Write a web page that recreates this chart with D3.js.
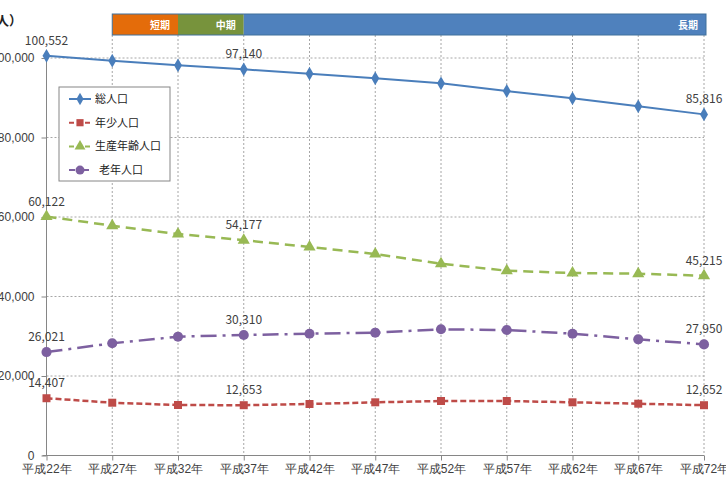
<!DOCTYPE html>
<html>
<head>
<meta charset="utf-8">
<script src="https://cdn.jsdelivr.net/npm/d3@7"></script>
<style>
  body { margin: 0; background: #fff; }
  svg { display: block; font-family: "Noto Sans CJK JP", "Noto Sans", sans-serif; }
</style>
</head>
<body>
<div class="chart"></div>
<script>
// data
var years = ["平成22年", "平成27年", "平成32年", "平成37年", "平成42年", "平成47年",
             "平成52年", "平成57年", "平成62年", "平成67年", "平成72年"];
var total = [100552, 99320, 98160, 97140, 96050, 94890, 93640, 91700, 89860, 87850, 85816];
var young = [14407, 13280, 12700, 12653, 12960, 13380, 13710, 13710, 13380, 13030, 12652];
var working = [60122, 57810, 55720, 54177, 52450, 50690, 48250, 46490, 45910, 45740, 45215];
var elderly = [26021, 28230, 29890, 30310, 30640, 30900, 31750, 31570, 30640, 29230, 27950];
var seriesNames = ["総人口", "年少人口", "生産年齢人口", "老年人口"];
var labeledIdx = [0, 3, 10];
var yTicks = [0, 20000, 40000, 60000, 80000, 100000];
// planning periods, as index ranges into years
var periodNames = ["短期", "中期", "長期"];
var periodStart = [1, 2, 3];
var periodEnd = [2, 3, 10];

var svgWidth = 726, svgHeight = 487;

var svg = d3.select(".chart").append("svg")
    .attr("width", svgWidth)
    .attr("height", svgHeight);

var x = d3.scalePoint().domain(years).range([46.5, 704]);
var y = d3.scaleLinear().domain([0, 110000]).range([455.5, 18.25]);

var barTop = 14, barBottom = 35;
var textColor = "#404040";

// grid
var grid = svg.append("g");
grid.selectAll(".hgrid")
    .data(yTicks.filter(d => d > 0))
    .enter().append("line")
    .attr("x1", x(years[0])).attr("x2", x(years[years.length - 1]))
    .attr("y1", d => y(d)).attr("y2", d => y(d))
    .attr("stroke", "#a6a6a6").attr("stroke-width", 1)
    .attr("stroke-dasharray", "2,2");
grid.selectAll(".vgrid")
    .data(years.slice(1))
    .enter().append("line")
    .attr("x1", d => x(d)).attr("x2", d => x(d))
    .attr("y1", barBottom).attr("y2", y(0))
    .attr("stroke", "#a6a6a6").attr("stroke-width", 1)
    .attr("stroke-dasharray", "2,2");

// axes
var xAxis = svg.append("g")
    .attr("transform", `translate(0,${y(0)})`)
    .call(d3.axisBottom(x).tickSize(5).tickPadding(4));
xAxis.select(".domain").attr("stroke", "#868686")
    .attr("d", `M${x(years[0]) - 4},0H${x(years[years.length - 1])}`);
xAxis.selectAll(".tick line").attr("stroke", "#868686");
xAxis.selectAll("text").attr("font-size", 12).attr("fill", textColor);

var yAxis = svg.append("g")
    .attr("transform", `translate(${x(years[0])},0)`)
    .call(d3.axisLeft(y).tickValues(yTicks).tickSize(5).tickPadding(7)
        .tickFormat(d3.format(",")));
yAxis.select(".domain").attr("stroke", "#868686")
    .attr("d", `M0,${y(0)}V${y(yTicks[yTicks.length - 1])}`);
yAxis.selectAll(".tick line").attr("stroke", "#868686");
yAxis.selectAll("text").attr("font-size", 12).attr("fill", textColor);

svg.append("text")
    .attr("x", 22).attr("y", 25)
    .attr("text-anchor", "end")
    .attr("font-size", 13).attr("font-weight", "bold")
    .attr("fill", "#222")
    .text("（人）");

// period bar
var periodColors = ["#e46c0a", "#77933c", "#4f81bd"];
var barLeft = x(years[periodStart[0]]);
var barRight = x(years[years.length - 1]) + 2;
var periods = svg.append("g");
periodNames.forEach(function (name, i) {
    var start = x(years[periodStart[i]]);
    var end = i === periodNames.length - 1 ? barRight : x(years[periodEnd[i]]);
    periods.append("rect")
        .attr("x", start).attr("y", barTop)
        .attr("width", end - start).attr("height", barBottom - barTop)
        .attr("fill", periodColors[i]);
    periods.append("text")
        .attr("x", end - 8).attr("y", (barTop + barBottom) / 2 + 4)
        .attr("text-anchor", "end")
        .attr("font-size", 10).attr("font-weight", "bold")
        .attr("fill", "#fff")
        .text(name);
});
periods.append("rect")
    .attr("x", barLeft).attr("y", barTop)
    .attr("width", barRight - barLeft).attr("height", barBottom - barTop)
    .attr("fill", "none").attr("stroke", "#41719c").attr("stroke-width", 1);

// series
var seriesData = [total, young, working, elderly];
var seriesColor = ["#4a7ebb", "#be4b48", "#98b954", "#7d60a0"];
var seriesDash = [null, "6,3", "10,6", "16,6,3,6"];
var seriesWidth = [2, 2.5, 2.5, 2.5];
var seriesMarker = [d3.symbolDiamond, d3.symbolSquare, d3.symbolTriangle, d3.symbolCircle];
var markerSize = [55, 64, 64, 80];

var line = d3.line()
    .x((d, i) => x(years[i]))
    .y(d => y(d));

seriesData.forEach(function (values, s) {
    var g = svg.append("g");
    g.append("path")
        .datum(values)
        .attr("d", line)
        .attr("fill", "none")
        .attr("stroke", seriesColor[s])
        .attr("stroke-width", seriesWidth[s])
        .attr("stroke-dasharray", seriesDash[s]);
    g.selectAll("path.marker")
        .data(values)
        .enter().append("path")
        .attr("class", "marker")
        .attr("transform", (d, i) => `translate(${x(years[i])},${y(d)})`)
        .attr("d", d3.symbol().type(seriesMarker[s]).size(markerSize[s]))
        .attr("fill", seriesColor[s]);
    g.selectAll("text")
        .data(labeledIdx)
        .enter().append("text")
        .attr("x", i => x(years[i]))
        .attr("y", i => y(values[i]) - 11)
        .attr("text-anchor", "middle")
        .attr("font-size", 12)
        .attr("fill", textColor)
        .text(i => d3.format(",")(values[i]));
});

// legend
var legend = svg.append("g").attr("transform", "translate(59,87)");
legend.append("rect")
    .attr("width", 111).attr("height", 94)
    .attr("fill", "#fff").attr("stroke", "#868686");
seriesNames.forEach(function (name, s) {
    var ly = 12 + s * 23.7;
    legend.append("line")
        .attr("x1", 10).attr("x2", 32)
        .attr("y1", ly).attr("y2", ly)
        .attr("stroke", seriesColor[s]).attr("stroke-width", 2)
        .attr("stroke-dasharray", s === 0 ? null : (s === 3 ? "6,3,2,3" : "5,3"));
    legend.append("path")
        .attr("transform", `translate(21,${ly})`)
        .attr("d", d3.symbol().type(seriesMarker[s]).size(markerSize[s] * 0.8))
        .attr("fill", seriesColor[s]);
    legend.append("text")
        .attr("x", s === 3 ? 40 : 36).attr("y", ly + 4)
        .attr("font-size", 11).attr("fill", "#222")
        .text(name);
});
</script>
</body>
</html>
